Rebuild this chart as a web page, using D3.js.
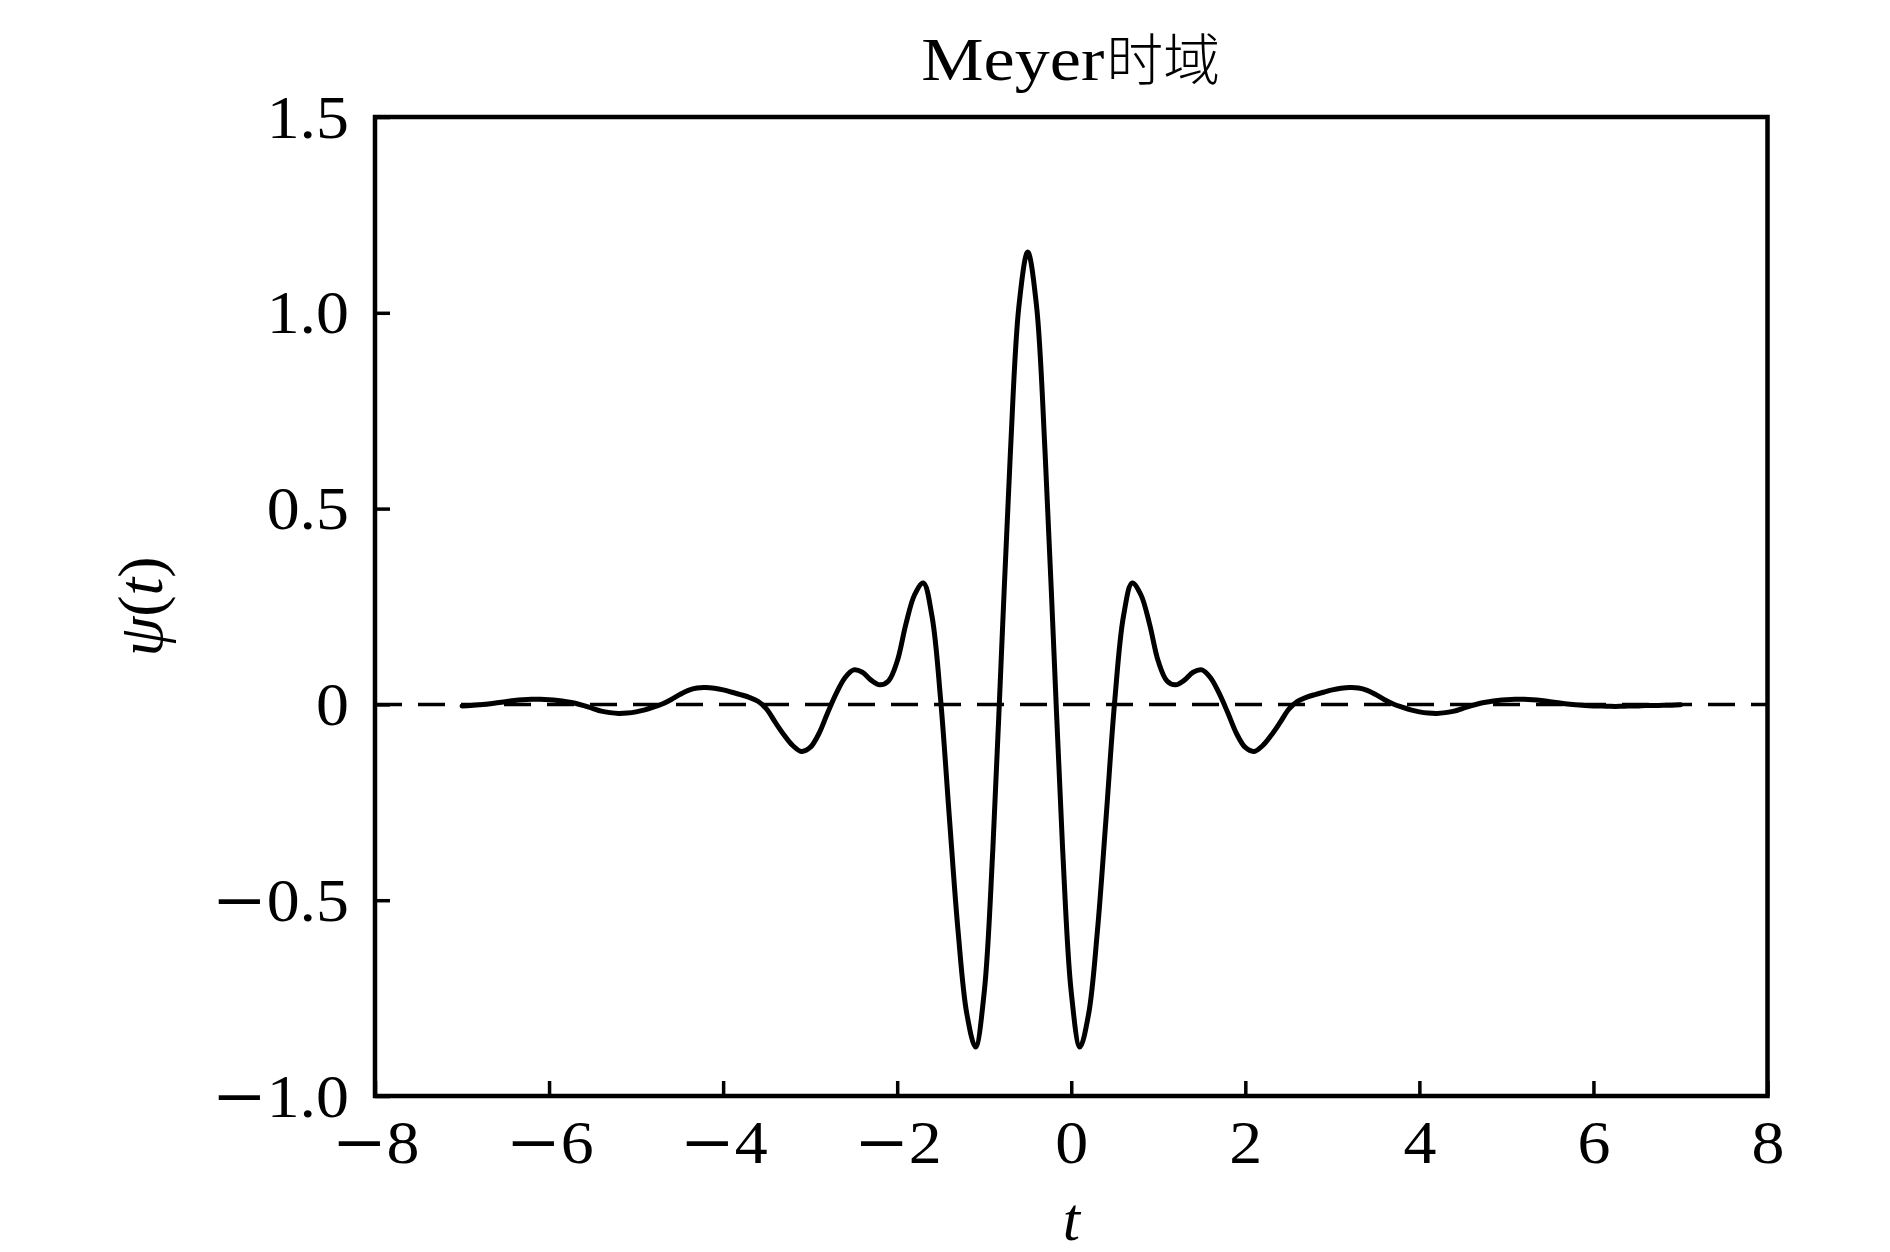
<!DOCTYPE html>
<html><head><meta charset="utf-8">
<script src="https://cdn.jsdelivr.net/npm/d3@7"></script>
<style>body{margin:0;background:#fff}</style>
</head><body>
<svg id="c" width="1890" height="1252"></svg>
<script>
const titleLatin = "Meyer";
const titleCJK = "时域";
const xLabel = "t";
const yLabelParts = [["ψ", "italic"], ["(", "normal"], ["t", "italic"], [")", "normal"]];
const xTicks = [-8, -6, -4, -2, 0, 2, 4, 6, 8];
const xTickLabels = ["−8", "−6", "−4", "−2", "0", "2", "4", "6", "8"];
const yTicks = [-1.0, -0.5, 0, 0.5, 1.0, 1.5];
const yTickLabels = ["−1.0", "−0.5", "0", "0.5", "1.0", "1.5"];

const tValues = [
-7.0,-6.9,-6.8,-6.7,-6.6,-6.5,-6.4,-6.3,-6.2,-6.1,
-6.0,-5.9,-5.8,-5.7,-5.6,-5.5,-5.4,-5.3,-5.2,-5.1,
-5.0,-4.9,-4.8,-4.7,-4.6,-4.5,-4.4,-4.3,-4.2,-4.1,
-4.0,-3.9,-3.8,-3.7,-3.6,-3.5,-3.4,-3.3,-3.2,-3.1,
-3.0,-2.9,-2.8,-2.7,-2.6,-2.5,-2.4,-2.3,-2.2,-2.1,
-2.0,-1.9,-1.8,-1.7,-1.6,-1.5,-1.4,-1.3,-1.2,-1.1,
-1.0,-0.9,-0.8,-0.7,-0.6,-0.5,-0.4,-0.3,-0.2,-0.1,
0.0,0.1,0.2,0.3,0.4,0.5,0.6,0.7,0.8,0.9,
1.0,1.1,1.2,1.3,1.4,1.5,1.6,1.7,1.8,1.9,
2.0,2.1,2.2,2.3,2.4,2.5,2.6,2.7,2.8,2.9,
3.0,3.1,3.2,3.3,3.4,3.5,3.6,3.7,3.8,3.9,
4.0,4.1,4.2,4.3,4.4,4.5,4.6,4.7,4.8,4.9,
5.0,5.1,5.2,5.3,5.4,5.5,5.6,5.7,5.8,5.9,
6.0,6.1,6.2,6.3,6.4,6.5,6.6,6.7,6.8,6.9,
7.0];

const psiValues = [
-0.004,-0.003,-0.001,0.001,0.004,0.007,0.010,0.012,0.013,0.013,
0.012,0.010,0.007,0.003,-0.003,-0.010,-0.017,-0.021,-0.023,-0.022,
-0.019,-0.014,-0.007,0.001,0.012,0.025,0.036,0.042,0.043,0.041,
0.037,0.031,0.025,0.018,0.008,-0.012,-0.046,-0.078,-0.105,-0.120,
-0.110,-0.075,-0.022,0.028,0.068,0.088,0.082,0.062,0.050,0.060,
0.110,0.205,0.280,0.310,0.225,0.010,-0.290,-0.580,-0.790,-0.875,
-0.735,-0.365,0.140,0.640,1.020,
1.155,1.020,0.640,0.140,-0.365,-0.735,-0.875,-0.790,-0.580,-0.290,
0.010,0.225,0.310,0.280,0.205,0.110,0.060,0.050,0.062,0.082,
0.088,0.068,0.028,-0.022,-0.075,-0.110,-0.120,-0.105,-0.078,-0.046,
-0.012,0.008,0.018,0.025,0.031,0.037,0.041,0.043,0.042,0.036,
0.025,0.012,0.001,-0.007,-0.014,-0.019,-0.022,-0.023,-0.021,-0.017,
-0.010,-0.003,0.003,0.007,0.010,0.012,0.013,0.013,0.012,0.010,
0.007,0.004,0.001,-0.001,-0.003,-0.004,-0.004,-0.005,-0.005,-0.004,
-0.004,-0.003,-0.003,-0.002,-0.002,-0.001];

const serif = "'Liberation Serif', 'Times New Roman', serif";
const svg = d3.select("#c");
svg.append("rect").attr("width", 1890).attr("height", 1252).attr("fill", "#fff");

const L = 375, R = 1767.5, T = 117, B = 1096;
const x = d3.scaleLinear().domain([-8, 8]).range([L, R]);
const y = d3.scaleLinear().domain([-1, 1.5]).range([B, T]);
const stretch = 1.08;

function putLabel(sel, labels) {
  sel.each(function(d, i) {
    const s = d3.select(this);
    const lab = labels[i];
    s.text(null);
    if (lab.startsWith("−")) {
      s.append("tspan").attr("font-family", "'DejaVu Serif', serif").text("−");
      s.append("tspan").text(lab.slice(1));
    } else {
      s.text(lab);
    }
  });
}

// zero reference line
svg.append("line")
  .attr("x1", x(-8)).attr("x2", x(8))
  .attr("y1", y(0)).attr("y2", y(0))
  .attr("stroke", "#000").attr("stroke-width", 3.5)
  .attr("stroke-dasharray", "27,16");

// curve
const data = tValues.map((t, i) => ({t, v: psiValues[i]}));
svg.append("path")
  .datum(data)
  .attr("fill", "none")
  .attr("stroke", "#000")
  .attr("stroke-width", 5)
  .attr("stroke-linejoin", "round")
  .attr("stroke-linecap", "round")
  .attr("d", d3.line().x(d => x(d.t)).y(d => y(d.v)).curve(d3.curveCatmullRom.alpha(0.5)));

// axes
const gx = svg.append("g").attr("transform", `translate(0,${B})`)
  .call(d3.axisBottom(x).tickValues(xTicks).tickSize(-15).tickPadding(0));
gx.select(".domain").remove();
gx.selectAll(".tick line").attr("stroke", "#000").attr("stroke-width", 3.5);
gx.selectAll(".tick text")
  .attr("y", 67).attr("dy", null)
  .attr("transform", `scale(${stretch},1)`)
  .attr("font-family", serif).attr("font-size", 61).attr("fill", "#000")
  .call(putLabel, xTickLabels);

const gy = svg.append("g").attr("transform", `translate(${L},0)`)
  .call(d3.axisLeft(y).tickValues(yTicks).tickSize(-15).tickPadding(0));
gy.select(".domain").remove();
gy.selectAll(".tick line").attr("stroke", "#000").attr("stroke-width", 3.5);
gy.selectAll(".tick text")
  .attr("x", -26 / stretch).attr("dy", "0.33em")
  .attr("transform", `scale(${stretch},1)`)
  .attr("text-anchor", "end")
  .attr("font-family", serif).attr("font-size", 61).attr("fill", "#000")
  .call(putLabel, yTickLabels);

// frame
svg.append("rect")
  .attr("x", L).attr("y", T).attr("width", R - L).attr("height", B - T)
  .attr("fill", "none").attr("stroke", "#000").attr("stroke-width", 4.5);

// title
const cx = (L + R) / 2;
svg.append("text")
  .attr("x", cx - 150).attr("y", 80)
  .attr("font-family", serif).attr("font-size", 62)
  .attr("textLength", 183).attr("lengthAdjust", "spacingAndGlyphs")
  .text(titleLatin);
svg.append("text")
  .attr("x", cx + 35).attr("y", 80)
  .attr("font-family", "'Noto Sans CJK SC', sans-serif").attr("font-weight", 300)
  .attr("font-size", 56)
  .attr("textLength", 114).attr("lengthAdjust", "spacingAndGlyphs")
  .text(titleCJK);

// axis labels
svg.append("text")
  .attr("x", cx).attr("y", 1240)
  .attr("text-anchor", "middle")
  .attr("font-family", serif).attr("font-style", "italic").attr("font-size", 62)
  .text(xLabel);
const yl = svg.append("text")
  .attr("transform", `translate(162,${(T + B) / 2}) rotate(-90)`)
  .attr("text-anchor", "middle")
  .attr("font-family", serif).attr("font-size", 64);
yLabelParts.forEach(([s, st]) => yl.append("tspan").attr("font-style", st).text(s));
</script>
</body></html>
